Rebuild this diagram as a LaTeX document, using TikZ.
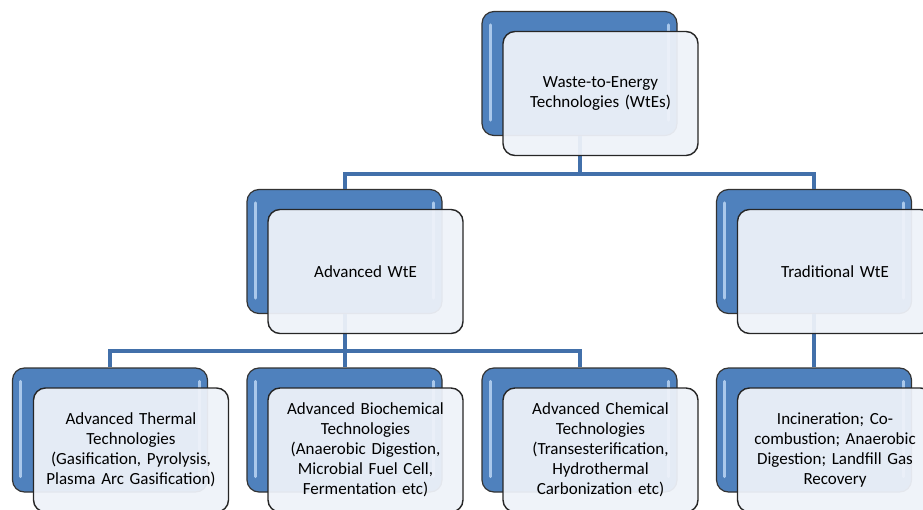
\documentclass[tikz,border=0pt]{standalone}
\usepackage{fontspec}
\setmainfont{Carlito}

\begin{document}
\begin{tikzpicture}[x=1pt, y=-1pt]

  % Colours taken from the office style chart
  \definecolor{boxblue}{RGB}{79,129,189}
  \definecolor{glintblue}{RGB}{170,200,235}
  \definecolor{busblue}{RGB}{66,112,170}
  \definecolor{frontfill}{RGB}{238,242,249}

  % Box properties
  \def\boxw{195pt}
  \def\boxh{124pt}
  \def\offx{21}
  \def\offy{20}

  \tikzset{
    backbox/.style={rectangle, rounded corners=12pt, minimum width=\boxw,
      minimum height=\boxh, fill=boxblue, draw=black!80, line width=1.2pt},
    frontbox/.style={rectangle, rounded corners=12pt, minimum width=\boxw,
      minimum height=\boxh, fill=frontfill, fill opacity=0.94, text opacity=1,
      draw=black!85, line width=1.4pt, text width=185pt, align=center,
      font=\fontsize{17}{20}\selectfont},
    bus/.style={draw=busblue, line width=4pt}
  }

  % Fix the page to the reference size
  \useasboundingbox (0,0) rectangle (923,510);

  % Back boxes (name, centre)
  \foreach \n/\cx/\cy in {top/579.5/73.5, adv/344.5/251.5, trad/814/251.5,
      therm/110/430, bio/344.5/430, chem/579.5/430, inc/814/430} {
    \node[backbox] (\n) at (\cx,\cy) {};
    % glint stripes inside the back box
    \draw[glintblue, line width=3pt, line cap=round]
      ([xshift=9pt, yshift=-14pt]\n.north west) -- ([xshift=9pt, yshift=16pt]\n.south west);
    \draw[glintblue, line width=3pt, line cap=round]
      ([xshift=-9pt, yshift=-14pt]\n.north east) -- ([xshift=-9pt, yshift=16pt]\n.south east);
  }

  % Connectors
  \coordinate (busA) at (579.5,174);
  \coordinate (busB) at (344.5,351);
  \draw[bus] (top.south) -- (busA) -| (adv.north);
  \draw[bus] (busA) -| (trad.north);
  \draw[bus] (adv.south) -- (busB) -| (therm.north);
  \draw[bus] (busB) -- (bio.north);
  \draw[bus] (busB) -| (chem.north);
  \draw[bus] (trad.south) -- (inc.north);

  % Front boxes with the texts
  \node[frontbox] (topF) at ([xshift=\offx pt, yshift=-\offy pt]top.center)
    {Waste-to-Energy\\Technologies (WtEs)};
  \node[frontbox] (advF) at ([xshift=\offx pt, yshift=-\offy pt]adv.center)
    {Advanced WtE};
  \node[frontbox] (tradF) at ([xshift=\offx pt, yshift=-\offy pt]trad.center)
    {Traditional WtE};
  \node[frontbox] (thermF) at ([xshift=\offx pt, yshift=-\offy pt]therm.center)
    {Advanced Thermal\\Technologies\\(Gasification, Pyrolysis,\\Plasma Arc Gasification)};
  \node[frontbox] (bioF) at ([xshift=\offx pt, yshift=-\offy pt]bio.center)
    {Advanced Biochemical\\Technologies\\(Anaerobic Digestion,\\Microbial Fuel Cell,\\Fermentation etc)};
  \node[frontbox] (chemF) at ([xshift=\offx pt, yshift=-\offy pt]chem.center)
    {Advanced Chemical\\Technologies\\(Transesterification,\\Hydrothermal\\Carbonization etc)};
  \node[frontbox] (incF) at ([xshift=\offx pt, yshift=-\offy pt]inc.center)
    {Incineration; Co-\\combustion; Anaerobic\\Digestion; Landfill Gas\\Recovery};

\end{tikzpicture}
\end{document}
